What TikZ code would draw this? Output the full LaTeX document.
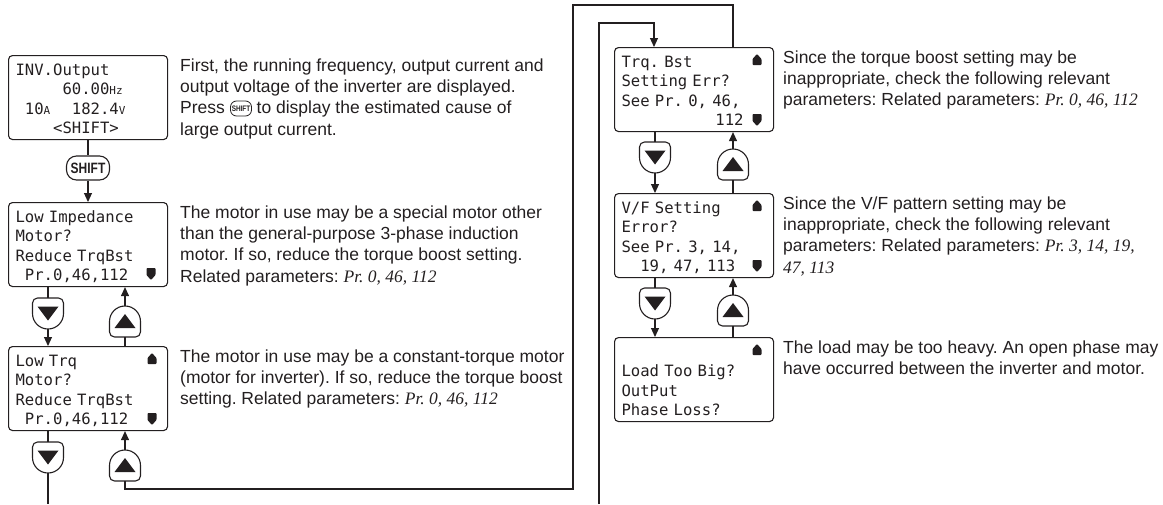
\documentclass[tikz,border=0pt]{standalone}
\usepackage{fontspec}
\usepackage{graphicx}
\setmainfont{Liberation Sans}
\newfontfamily\monof{DejaVu Sans Mono}
\newfontfamily\timesf{Liberation Serif}
\usetikzlibrary{arrows.meta}
\definecolor{ink}{HTML}{231F20}
\newlength\cw
\setlength\cw{9.39pt}
\newcommand\unitsm[1]{{\fontsize{11}{11}\selectfont #1}}
\newcommand\prit[1]{{\timesf\itshape #1}}
\newcommand\ind[1]{\hspace*{#1\cw}}
\newcommand\firstl{\rule{0pt}{16pt}}
\newcommand\lastl{\rule[-2.5pt]{0pt}{2.5pt}}
\newcommand\downkey[3]{%
  \node[keynode] (#1) at (#2,#3+15.5) {};
  \draw[keyline] (#2-15.5,#3+15.5) -- (#2-15.5,#3+5) arc[start angle=180,end angle=270,radius=5] -- (#2+10.5,#3) arc[start angle=270,end angle=360,radius=5] -- (#2+15.5,#3+15.5) arc[start angle=0,end angle=180,radius=15.5] -- cycle;
  \fill[ink] (#2-10.5,#3+8.5) -- (#2+10.5,#3+8.5) -- (#2,#3+22.5) -- cycle;}
\newcommand\upkey[3]{%
  \node[keynode] (#1) at (#2,#3+15.5) {};
  \draw[keyline] (#2-15.5,#3+15.5) arc[start angle=180,end angle=360,radius=15.5] -- (#2+15.5,#3+26) arc[start angle=0,end angle=90,radius=5] -- (#2-10.5,#3+31) arc[start angle=90,end angle=180,radius=5] -- cycle;
  \fill[ink] (#2-10.5,#3+22) -- (#2+10.5,#3+22) -- (#2,#3+8) -- cycle;}
\newcommand\indup[2]{\fill[ink, rounded corners=0.8pt] (#1-4.5,#2+11) -- (#1-4.5,#2+5) -- (#1,#2) -- (#1+4.5,#2+5) -- (#1+4.5,#2+11) -- cycle;}
\newcommand\inddown[2]{\fill[ink, rounded corners=0.8pt] (#1-4.5,#2) -- (#1-4.5,#2+7) -- (#1,#2+12) -- (#1+4.5,#2+7) -- (#1+4.5,#2) -- cycle;}
\begin{document}
\begin{tikzpicture}[x=1pt,y=1pt,yscale=-1,
  ln/.style={draw=ink, line width=1.1pt},
  arr/.style={ln, -{Triangle[length=9pt,width=8pt]}},
  lcd/.style={draw=ink, line width=1.1pt, rounded corners=4pt, minimum width=159pt, minimum height=84pt, inner xsep=7pt, inner ysep=0pt, anchor=north west, text width=145pt, align=left, text=ink, font=\monof\fontsize{15.6}{19.5}\selectfont\frenchspacing},
  desc/.style={anchor=north west, inner sep=0pt, align=left, text=ink, font=\fontsize{17.5}{21.3}\selectfont\frenchspacing},
  keynode/.style={minimum width=31pt, minimum height=31pt, inner sep=0pt},
  keyline/.style={draw=ink, line width=1.1pt},
  shiftkey/.style={draw=ink, line width=1.1pt, rounded corners=10pt, minimum width=43pt, minimum height=24pt, inner sep=0pt, text=ink, font=\bfseries\fontsize{15}{15}\selectfont},
  shifticon/.style={draw=ink, line width=0.8pt, rounded corners=6pt, minimum width=21pt, minimum height=15pt, inner sep=0pt, text=ink, font=\bfseries\fontsize{8}{8}\selectfont}]
\useasboundingbox (0,0) rectangle (1163,504);

% LCD boxes
\node[lcd] (b1) at (8,55) {\firstl INV.Output\\ \ind{5}60.00\unitsm{Hz}\\ \ind{1}\makebox[5\cw][l]{10\unitsm{A}}182.4\unitsm{V}\\ \ind{4}<SHIFT>\lastl};
\node[lcd] (b2) at (8,202) {\firstl Low Impedance\\Motor?\\Reduce TrqBst\\ \ind{1}Pr.0,46,112\lastl};
\node[lcd] (b3) at (8,346) {\firstl Low Trq\\Motor?\\Reduce TrqBst\\ \ind{1}Pr.0,46,112\lastl};
\node[lcd] (b4) at (614,47) {\firstl Trq. Bst\\Setting Err?\\See Pr. 0, 46,\\ \ind{10}112\lastl};
\node[lcd] (b5) at (614,193) {\firstl V/F Setting\\Error?\\See Pr. 3, 14,\\ \ind{2}19, 47, 113\lastl};
\node[lcd] (b6) at (614,337) {\firstl\mbox{}\\Load Too Big?\\OutPut\\Phase Loss?\lastl};

% scroll indicators
\inddown{151}{268}
\indup{152}{353}
\inddown{152}{413}
\indup{757}{54}
\inddown{757}{114}
\indup{757}{200}
\inddown{757}{260}
\indup{757}{344}

% keys
\node[shiftkey] (s1) at (88,168) {\scalebox{0.8}[1]{SHIFT}};
\downkey{k2d}{48}{298}
\upkey{k2u}{125}{306}
\downkey{k3d}{48}{442}
\upkey{k3u}{125}{450}
\downkey{k4d}{655}{142}
\upkey{k4u}{733}{149}
\downkey{k5d}{655}{288}
\upkey{k5u}{733}{295}

% connectors
\draw[ln] (s1.north |- b1.south) -- (s1.north);
\draw[arr] (s1.south) -- (s1.south |- b2.north);
\draw[ln] (k2d.north |- b2.south) -- (k2d.north);
\draw[arr] (k2d.south) -- (k2d.south |- b3.north);
\draw[ln] (k2u.south |- b3.north) -- (k2u.south);
\draw[arr] (k2u.north) -- (k2u.north |- b2.south);
\draw[ln] (k3d.north |- b3.south) -- (k3d.north);
\coordinate (outL) at (48,504);
\draw[ln] (k3d.south) -- (outL);
\draw[arr] (k3u.north) -- (k3u.north |- b3.south);
\draw[ln] (k3u.south) |- (573,489) -- (573,5) -| ([xshift=119pt]b4.north west);
\coordinate (inR) at (599,504);
\draw[arr] (inR) -- (599,23) -| ([xshift=40pt]b4.north west);
\draw[ln] (k4d.north |- b4.south) -- (k4d.north);
\draw[arr] (k4d.south) -- (k4d.south |- b5.north);
\draw[ln] (k4u.south |- b5.north) -- (k4u.south);
\draw[arr] (k4u.north) -- (k4u.north |- b4.south);
\draw[ln] (k5d.north |- b5.south) -- (k5d.north);
\draw[arr] (k5d.south) -- (k5d.south |- b6.north);
\draw[ln] (k5u.south |- b6.north) -- (k5u.south);
\draw[arr] (k5u.north) -- (k5u.north |- b5.south);

% descriptions
\node[desc] (d1) at (180,55) {\firstl First, the running frequency, output current and\\output voltage of the inverter are displayed.\\Press \hspace{22pt} to display the estimated cause of\\large output current.};
\node[shifticon] (s0) at (241,108.5) {\scalebox{0.8}[1]{SHIFT}};
\node[desc] (d2) at (180,202) {\firstl The motor in use may be a special motor other\\than the general-purpose 3-phase induction\\motor. If so, reduce the torque boost setting.\\Related parameters: \prit{Pr. 0, 46, 112}};
\node[desc] (d3) at (180,346) {\firstl The motor in use may be a constant-torque motor\\(motor for inverter). If so, reduce the torque boost\\setting. Related parameters: \prit{Pr. 0, 46, 112}};
\node[desc] (d4) at (783,47) {\firstl Since the torque boost setting may be\\inappropriate, check the following relevant\\parameters: Related parameters: \prit{Pr. 0, 46, 112}};
\node[desc] (d5) at (783,193) {\firstl Since the V/F pattern setting may be\\inappropriate, check the following relevant\\parameters: Related parameters: \prit{Pr. 3, 14, 19,}\\\prit{47, 113}};
\node[desc] (d6) at (783,337) {\firstl The load may be too heavy. An open phase may\\have occurred between the inverter and motor.};
\end{tikzpicture}
\end{document}
